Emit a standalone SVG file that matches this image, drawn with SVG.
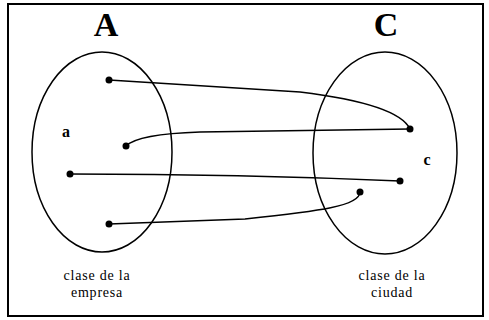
<svg xmlns="http://www.w3.org/2000/svg" width="489" height="320" viewBox="0 0 489 320">
<style>
.set{fill:none;stroke:#000;stroke-width:1.5}
.ln{fill:none;stroke:#000;stroke-width:1.4}
.dot{fill:#000}
.big{font-family:"Liberation Serif",serif;font-weight:bold;font-size:34px;text-anchor:middle}
.el{font-family:"Liberation Serif",serif;font-weight:bold;font-size:16px;text-anchor:middle}
.cap{font-family:"Liberation Serif",serif;font-size:14px;letter-spacing:0.8px;text-anchor:middle}
</style>
<rect x="8" y="4" width="475" height="312" fill="#fff" stroke="#000" stroke-width="2"/>
<g id="setA">
<ellipse class="set" cx="102" cy="152" rx="70" ry="100"/>
<text class="big" x="106" y="36">A</text>
<text class="el" x="66" y="137">a</text>
<text class="cap" x="97" y="280">clase de la</text>
<text class="cap" x="97" y="297">empresa</text>
</g>
<g id="setC">
<ellipse class="set" cx="385" cy="153" rx="72" ry="101"/>
<text class="big" x="386" y="36">C</text>
<text class="el" x="427" y="165">c</text>
<text class="cap" x="392" y="280">clase de la</text>
<text class="cap" x="392" y="297">ciudad</text>
</g>
<g id="connectors">
<path class="ln" d="M109,80 L300,92 Q398,104 410,129"/>
<path class="ln" d="M126,146 Q138,134 200,132 L410,129"/>
<path class="ln" d="M70,174 Q240,174 400,181"/>
<path class="ln" d="M109,224 L245,219 C320,211 360,206 360,192"/>
<circle class="dot" cx="109" cy="80" r="3.5"/>
<circle class="dot" cx="126" cy="146" r="3.5"/>
<circle class="dot" cx="70" cy="174" r="3.5"/>
<circle class="dot" cx="109" cy="224" r="3.5"/>
<circle class="dot" cx="410" cy="129" r="3.5"/>
<circle class="dot" cx="400" cy="181" r="3.5"/>
<circle class="dot" cx="360" cy="192" r="3.5"/>
</g>
</svg>
